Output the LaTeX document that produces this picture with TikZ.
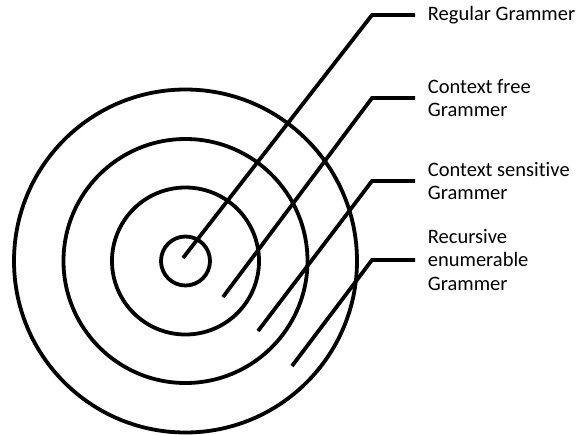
\documentclass[tikz,border=0pt]{standalone}
\usepackage{fontspec}
\setmainfont{Carlito}[Ligatures=NoCommon]
\usetikzlibrary{positioning}

\begin{document}
\begin{tikzpicture}[x=1pt, y=-1pt, line width=3.8pt,
  ring/.style={draw, circle, inner sep=0pt},
  lbl/.style={anchor=west, align=left, inner sep=11pt,
              font=\fontsize{20.5}{23.5}\selectfont}]
  \useasboundingbox (0,0) rectangle (581,434);

  % nested language classes
  \foreach \i/\d in {1/49, 2/147, 3/244, 4/343}
    \node[ring, minimum size=\d pt] (ring\i) at (185.5,261) {};

  % pointers from each ring to its name
  \foreach \i/\sx/\sy/\ky/\txt in {1/183/258/15/{Regular Grammer},
                                   2/223/297/98/{Context free\\Grammer},
                                   3/258/331/181/{Context sensitive\\Grammer},
                                   4/292/366/260/{Recursive\\enumerable\\Grammer}} {
    \coordinate (tip\i) at (\sx,\sy);
    \coordinate (bend\i) at (372,\ky);
    \node[lbl] (name\i) at (415,\ky) {\txt};
    \draw (tip\i) -- (bend\i) -- (name\i.west);
  }
\end{tikzpicture}
\end{document}
